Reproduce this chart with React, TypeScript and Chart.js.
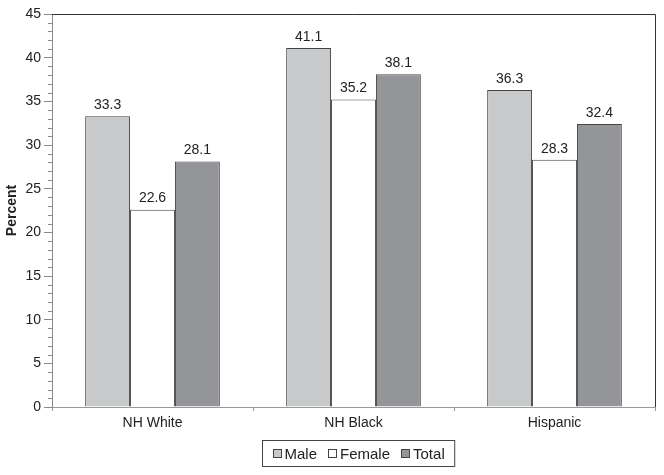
import React, { useEffect, useRef } from "react";
import { Chart, registerables } from "chart.js";

Chart.register(...registerables);

const categories = ["NH White", "NH Black", "Hispanic"];
const seriesNames = ["Male", "Female", "Total"];
const maleValues = [33.3, 41.1, 36.3];
const femaleValues = [22.6, 35.2, 28.3];
const totalValues = [28.1, 38.1, 32.4];
const seriesColors = ["#c8c9cb", "#ffffff", "#949598"];
const yTitle = "Percent";

const FONT = "'Liberation Sans', Arial, sans-serif";

const extrasPlugin = {
  id: "extras",
  afterDraw(chart: any) {
    const ctx = chart.ctx;
    const ca = chart.chartArea;
    const y = chart.scales.y;
    ctx.save();
    // top/right border
    ctx.strokeStyle = "#333";
    ctx.lineWidth = 1;
    ctx.beginPath();
    ctx.moveTo(ca.left, ca.top + 0.5);
    ctx.lineTo(ca.right + 0.5, ca.top + 0.5);
    ctx.lineTo(ca.right + 0.5, ca.bottom);
    ctx.stroke();
    // minor ticks
    ctx.strokeStyle = "#888";
    ctx.beginPath();
    for (let v = 0; v <= 45; v += 1) {
      if (v % 5 === 0) continue;
      const py = Math.round(y.getPixelForValue(v)) + 0.5;
      ctx.moveTo(ca.left - 4, py);
      ctx.lineTo(ca.left, py);
    }
    ctx.stroke();
    // data labels
    ctx.fillStyle = "#222";
    ctx.font = `14px ${FONT}`;
    ctx.textAlign = "center";
    ctx.textBaseline = "bottom";
    chart.data.datasets.forEach((ds: any, di: number) => {
      const meta = chart.getDatasetMeta(di);
      meta.data.forEach((bar: any, i: number) => {
        ctx.fillText(ds.data[i].toFixed(1), bar.x, bar.y - 4);
      });
    });
    // legend
    ctx.font = `15px ${FONT}`;
    ctx.textAlign = "left";
    ctx.textBaseline = "middle";
    const sq = 9;
    const gapSqText = 3;
    const gapItems = 11;
    const padX = 10;
    const widths = chart.data.datasets.map((ds: any) => sq + gapSqText + ctx.measureText(ds.label).width);
    const inner = widths.reduce((a: number, b: number) => a + b, 0) + gapItems * (widths.length - 1);
    const boxW = inner + padX * 2;
    const boxH = 26;
    const cx = 358;
    const bx = Math.round(cx - boxW / 2) + 0.5;
    const by = 440.5;
    ctx.strokeStyle = "#444";
    ctx.lineWidth = 1;
    ctx.strokeRect(bx, by, boxW, boxH);
    let x = bx + padX;
    const my = by + boxH / 2;
    chart.data.datasets.forEach((ds: any, di: number) => {
      ctx.fillStyle = ds.backgroundColor;
      ctx.fillRect(Math.round(x) + 0.5, Math.round(my - sq / 2) + 0.5, sq - 1, sq - 1);
      ctx.strokeStyle = "#444";
      ctx.strokeRect(Math.round(x) + 0.5, Math.round(my - sq / 2) + 0.5, sq - 1, sq - 1);
      ctx.fillStyle = "#222";
      ctx.fillText(ds.label, x + sq + gapSqText, my + 1);
      x += widths[di] + gapItems;
    });
    ctx.restore();
  },
};

export default function App() {
  const ref = useRef<HTMLCanvasElement>(null);
  useEffect(() => {
    document.body.style.margin = "0";
    const chart = new Chart(ref.current!, {
      type: "bar",
      data: {
        labels: categories,
        datasets: [maleValues, femaleValues, totalValues].map((d, i) => ({
          label: seriesNames[i],
          data: d,
          backgroundColor: seriesColors[i],
          borderColor: "#444",
          borderWidth: 1,
          categoryPercentage: 0.67,
          barPercentage: 1,
        })),
      },
      options: {
        animation: false,
        responsive: false,
        layout: { padding: { top: 14, right: 9, left: 0, bottom: 0 } },
        plugins: { legend: { display: false }, tooltip: { enabled: false } },
        scales: {
          x: {
            grid: { drawOnChartArea: false, tickLength: 4, color: "#999", offset: true },
            border: { color: "#999" },
            ticks: { color: "#222", font: { family: FONT, size: 14 }, padding: 4 },
            afterFit: (s: any) => { s.height = 68; },
          },
          y: {
            min: 0,
            max: 45,
            ticks: { stepSize: 5, color: "#222", font: { family: FONT, size: 14 }, padding: 3 },
            grid: { drawOnChartArea: false, tickLength: 8, color: "#888" },
            border: { color: "#888" },
            title: { display: true, text: yTitle, color: "#222", font: { family: FONT, size: 14, weight: "bold" }, padding: 4 },
            afterFit: (s: any) => { s.width = 52; },
          },
        },
      },
      plugins: [extrasPlugin],
    });
    return () => chart.destroy();
  }, []);
  return (
    <div style={{ width: 664, height: 475 }}>
      <canvas ref={ref} width={664} height={475} />
    </div>
  );
}
